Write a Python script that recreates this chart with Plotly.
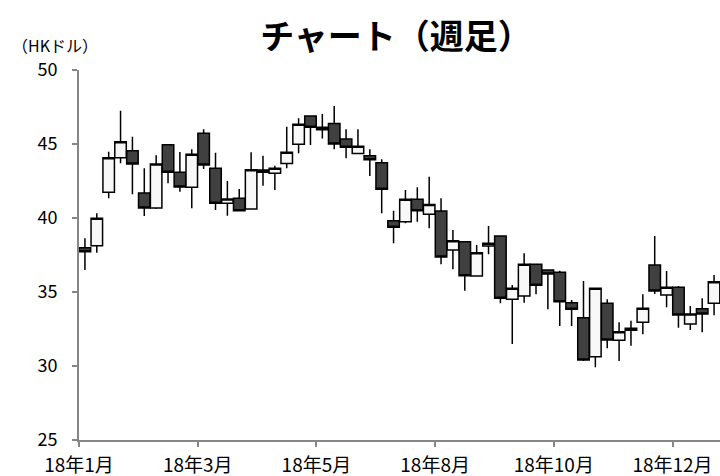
import plotly.graph_objects as go

# weekly OHLC (HK$)
opens = [37.99, 38.13, 41.74, 44.07, 44.55, 41.69, 40.68, 44.95, 43.09, 42.07,
         45.72, 43.36, 40.99, 41.33, 40.61, 43.24, 43.02, 43.69, 44.98, 46.89,
         46.13, 46.39, 45.34, 44.35, 44.21, 43.74, 39.82, 39.75, 41.26, 40.25,
         40.47, 37.84, 38.40, 36.08, 38.11, 38.78, 34.51, 34.73, 36.87, 36.49,
         36.33, 34.28, 33.26, 30.63, 34.24, 31.74, 32.55, 32.95, 36.82, 34.80,
         35.32, 32.84, 33.87, 34.24]
highs = [38.63, 40.32, 44.48, 47.25, 45.49, 43.36, 44.24, 44.95, 44.46, 44.64,
         45.99, 44.41, 42.50, 41.96, 44.44, 44.21, 43.53, 46.17, 46.74, 46.90,
         47.03, 47.57, 45.99, 45.99, 44.64, 43.97, 40.49, 41.89, 42.07, 42.79,
         41.33, 39.19, 38.45, 38.18, 39.46, 38.80, 35.47, 37.61, 36.90, 36.50,
         36.44, 34.46, 35.74, 35.25, 34.51, 32.95, 33.06, 34.84, 38.78, 36.42,
         35.41, 34.05, 34.57, 36.15]
lows = [36.49, 37.66, 41.33, 43.70, 41.60, 40.14, 40.60, 42.34, 41.78, 40.66,
        43.31, 40.54, 40.16, 40.45, 40.55, 42.18, 41.89, 43.36, 44.37, 44.93,
        45.38, 44.64, 44.03, 44.35, 42.84, 40.32, 38.29, 39.64, 39.75, 39.30,
        36.87, 36.53, 35.09, 36.08, 37.55, 34.24, 31.49, 34.28, 34.84, 33.83,
        32.70, 32.70, 30.34, 29.91, 31.20, 30.34, 31.37, 32.14, 34.86, 33.97,
        32.59, 32.43, 32.28, 33.43]
closes = [37.72, 39.98, 44.07, 45.16, 43.65, 40.68, 43.65, 43.09, 42.09, 44.30,
          43.58, 40.99, 41.28, 40.49, 43.26, 43.09, 43.36, 44.44, 46.33, 46.13,
          45.97, 45.00, 44.78, 44.84, 43.94, 41.94, 39.37, 41.26, 40.49, 40.92,
          37.36, 38.47, 36.10, 37.66, 38.29, 34.57, 35.25, 36.87, 35.45, 36.22,
          34.34, 33.83, 30.41, 35.25, 31.76, 32.32, 32.41, 33.90, 35.07, 35.32,
          33.45, 33.51, 33.51, 35.70]
weeks = list(range(len(opens)))

x_tick_labels = ["18年1月", "18年3月", "18年5月", "18年8月", "18年10月", "18年12月"]
x_tick_weeks = [0, 10, 20, 30, 40, 50]
y_ticks = [25, 30, 35, 40, 45, 50]

FONT = "Noto Sans CJK JP"
AXIS = "#868686"

W, H = 720, 476

fig = go.Figure()
fig.add_trace(go.Candlestick(
    x=weeks, open=opens, high=highs, low=lows, close=closes,
    increasing=dict(line=dict(color="#000000", width=1.5), fillcolor="#f8f8f8"),
    decreasing=dict(line=dict(color="#000000", width=1.5), fillcolor="#404040"),
    whiskerwidth=0,
    showlegend=False,
))

fig.update_layout(
    width=W, height=H,
    margin=dict(l=79, r=0, t=70, b=36, autoexpand=False),
    paper_bgcolor="white", plot_bgcolor="white",
    font=dict(family=FONT, color="#000000"),
    boxgap=0.03, boxgroupgap=0,
    title=dict(text="チャート（週足）", x=396/W, xref="container", xanchor="center",
               y=1-37/H, yref="container", yanchor="middle",
               font=dict(family=FONT, size=34, color="#000000", weight="bold")),
    xaxis=dict(
        range=[-0.5, len(weeks) - 0.5],
        rangeslider=dict(visible=False),
        tickmode="array",
        tickvals=[w - 0.5 for w in x_tick_weeks],
        ticktext=x_tick_labels,
        ticks="outside", ticklen=5, tickwidth=1.5, tickcolor=AXIS,
        showline=True, linecolor=AXIS, linewidth=2,
        showgrid=False, zeroline=False,
        tickfont=dict(family=FONT, size=19, color="#000000"),
        ticklabelstandoff=2,
        automargin=False,
    ),
    yaxis=dict(
        range=[25, 50],
        tickmode="array", tickvals=y_ticks,
        ticks="outside", ticklen=5, tickwidth=1.5, tickcolor=AXIS,
        showline=True, linecolor=AXIS, linewidth=2,
        showgrid=False, zeroline=False,
        tickfont=dict(family=FONT, size=18, color="#000000"),
        ticklabelstandoff=11,
        automargin=False,
    ),
    annotations=[dict(
        text="（HKドル）", xref="paper", yref="paper",
        x=(55 - 79) / 641, y=(440 - 45) / 370,
        xanchor="center", yanchor="middle", showarrow=False,
        font=dict(family=FONT, size=16, color="#000000"),
    )],
)

fig.write_html(
    "out.html",
    config={"displayModeBar": False},
    post_script="document.body.style.margin='0';document.body.style.overflow='hidden';",
)
